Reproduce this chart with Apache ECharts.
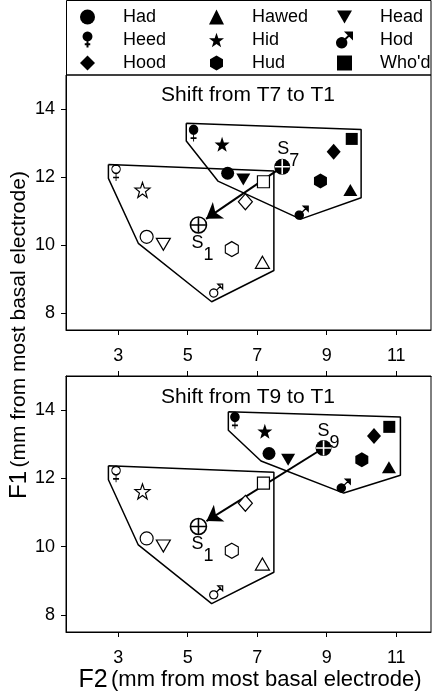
<!DOCTYPE html>
<html>
<head>
<meta charset="utf-8">
<script src="https://cdn.jsdelivr.net/npm/echarts@6/dist/echarts.min.js"></script>
<style>html,body{margin:0;padding:0;background:#fff}#c{width:433px;height:699px}</style>
</head>
<body>
<div id="c"></div>
<script>
// ---------- data ----------
const vowels = ['Had', 'Hawed', 'Head', 'Heed', 'Hid', 'Hod', 'Hood', 'Hud', "Who'd"];
// T1 (open symbols): F2, F1
const t1F2 = [3.82, 7.15, 4.30, 2.94, 3.70, 5.82, 6.66, 6.27, 7.18];
const t1F1 = [10.24, 9.49, 10.02, 12.12, 11.62, 8.66, 11.27, 9.88, 11.86];
// T7 (filled, top panel)
const t7F2 = [6.15, 9.68, 6.60, 5.17, 5.99, 8.28, 9.20, 8.82, 9.72];
const t7F1 = [12.11, 11.62, 11.93, 13.28, 12.96, 10.95, 12.74, 11.88, 13.12];
// T9 (filled, bottom panel)
const t9F2 = [7.34, 10.79, 7.89, 6.36, 7.22, 9.49, 10.36, 10.01, 10.80];
const t9F1 = [12.73, 12.33, 12.55, 13.69, 13.38, 11.79, 13.24, 12.55, 13.51];
// centroids
const s1 = [5.31, 10.59];
const s7 = [7.72, 12.30];
const s9 = [8.91, 12.89];
// arrow tips (at the edge of S1)
const arrowTipTop = [5.53, 10.77];
const arrowTipBottom = [5.54, 10.75];
// polygon outlines
const hullT1 = [[2.72, 12.37], [2.72, 11.96], [3.58, 10.05], [5.69, 8.33], [7.48, 9.25], [7.48, 12.18], [2.72, 12.37]];
const hullT7 = [[4.96, 13.58], [4.96, 13.06], [5.87, 11.88], [8.25, 10.76], [9.99, 11.39], [9.99, 13.40], [4.96, 13.58]];
const hullT9 = [[6.17, 13.95], [6.17, 13.41], [7.11, 12.51], [9.49, 11.57], [11.12, 12.09], [11.12, 13.80], [6.17, 13.95]];
// ticks
const xTicks = [3, 5, 7, 9, 11];
const yTicks = [8, 10, 12, 14];
const titles = ['Shift from T7 to T1', 'Shift from T9 to T1'];
const legendCols = [['Had', 'Heed', 'Hood'], ['Hawed', 'Hid', 'Hud'], ['Head', 'Hod', "Who'd"]];

// ---------- styling ----------
const FONT = 'Liberation Sans, Arial, Helvetica, sans-serif';
function circ(cx, cy, r) {
  let d = '';
  for (let k = 0; k < 24; k++) {
    const a = k / 24 * Math.PI * 2;
    d += (k === 0 ? 'M' : 'L') + (cx + r * Math.cos(a)).toFixed(2) + ',' + (cy + r * Math.sin(a)).toFixed(2);
  }
  return d + 'Z';
}
const P = {
  star: 'path://M10,0L12.35,6.76L19.51,6.91L13.8,11.24L15.88,18.09L10,14L4.12,18.09L6.2,11.24L0.49,6.91L7.65,6.76Z',
  hex: 'path://M8.66,0L17.32,5L17.32,15L8.66,20L0,15L0,5Z',
  tdown: 'path://M0,0L10,0L5,8.66Z',
  female: 'path://' + circ(5, 5, 5) + 'M5,10L5,19M1.5,15L8.5,15',
  male: 'path://' + circ(5, 11, 5) + 'M8.5,7.5L14,2M10,0L16,0L16,6Z',
  cross: 'path://M0,10L20,10M10,0L10,20'
};
const symbolOf = {
  'Had': 'circle', 'Hawed': 'triangle', 'Head': P.tdown, 'Heed': P.female, 'Hid': P.star,
  'Hod': P.male, 'Hood': 'diamond', 'Hud': P.hex, "Who'd": 'rect'
};
const sizeOf = {
  'Had': 13, 'Hawed': [14, 12], 'Head': [14, 12], 'Heed': [8.5, 16], 'Hid': 15,
  'Hod': 13, 'Hood': [14, 16], 'Hud': [13, 15], "Who'd": 12
};
const strokeSyms = {'Heed': 1, 'Hod': 1};

function pointSeries(name, gi, x, y, filled) {
  return {
    name: filled ? name : name + ' (T1)',
    type: 'scatter', xAxisIndex: gi === 0 ? 0 : 1, yAxisIndex: gi,
    data: [[x, y]],
    symbol: symbolOf[name], symbolSize: sizeOf[name], symbolKeepAspect: false,
    itemStyle: filled
      ? {color: '#000', borderColor: '#000', borderWidth: strokeSyms[name] ? 1.3 : 0, opacity: 1}
      : {color: '#fff', borderColor: '#000', borderWidth: 1.2, opacity: 1},
    z: 5, silent: true
  };
}
function hullSeries(data, gi) {
  return {type: 'line', xAxisIndex: gi === 0 ? 0 : 1, yAxisIndex: gi, data: data, showSymbol: false,
    symbol: 'none', lineStyle: {color: '#000', width: 1.5}, z: 2, silent: true};
}
function arrowSeries(from, to, gi) {
  return {type: 'lines', coordinateSystem: 'cartesian2d', xAxisIndex: gi === 0 ? 0 : 1, yAxisIndex: gi,
    data: [{coords: [from, to]}], symbol: ['none', 'arrow'], symbolSize: 15,
    lineStyle: {color: '#000', width: 2, opacity: 1, curveness: 0}, z: 3, silent: true};
}
const richS = {
  s: {fontSize: 18, fontFamily: FONT, color: '#000', lineHeight: 17, verticalAlign: 'top'},
  sub: {fontSize: 18, fontFamily: FONT, color: '#000', lineHeight: 30, verticalAlign: 'bottom'}
};
function centroidSeries(pt, gi, filled, sub, offset) {
  const xi = gi === 0 ? 0 : 1;
  return [
    {type: 'scatter', xAxisIndex: xi, yAxisIndex: gi, data: [pt], symbol: 'circle', symbolSize: 16,
      itemStyle: filled ? {color: '#000', borderWidth: 0, opacity: 1} : {color: '#fff', borderColor: '#000', borderWidth: 1.6, opacity: 1},
      label: {show: true, position: 'inside', offset: offset, formatter: '{s|S}{sub|' + sub + '}', rich: richS},
      z: 6, silent: true},
    {type: 'scatter', xAxisIndex: xi, yAxisIndex: gi, data: [pt], symbol: P.cross, symbolSize: 15,
      itemStyle: {color: 'none', borderColor: filled ? '#fff' : '#000', borderWidth: 1.6, opacity: 1},
      z: 7, silent: true}
  ];
}

const series = [];
series.push(hullSeries(hullT1, 0), hullSeries(hullT7, 0), hullSeries(hullT1, 1), hullSeries(hullT9, 1));
series.push(arrowSeries(s7, arrowTipTop, 0), arrowSeries(s9, arrowTipBottom, 1));
vowels.forEach((v, i) => {
  series.push(pointSeries(v, 0, t7F2[i], t7F1[i], true));
  series.push(pointSeries(v, 1, t9F2[i], t9F1[i], true));
  series.push(pointSeries(v, 0, t1F2[i], t1F1[i], false));
  series.push(pointSeries(v, 1, t1F2[i], t1F1[i], false));
});
series.push(...centroidSeries(s1, 0, false, '1', [4, 24]));
series.push(...centroidSeries(s7, 0, true, '7', [6, -12]));
series.push(...centroidSeries(s1, 1, false, '1', [4, 24]));
series.push(...centroidSeries(s9, 1, true, '9', [5, -11]));

const axisCommon = {
  type: 'value', min: 1.5, max: 12,
  axisLine: {show: true, lineStyle: {color: '#000', width: 1}},
  axisTick: {show: true, length: 5, customValues: xTicks, lineStyle: {color: '#000'}},
  axisLabel: {show: true, customValues: xTicks, fontSize: 18, fontFamily: FONT, color: '#000', margin: 17},
  splitLine: {show: false}
};
const yCommon = {
  type: 'value', min: 7.5, max: 15,
  axisLine: {show: true, lineStyle: {color: '#000', width: 1}},
  axisTick: {show: true, length: 5, customValues: yTicks, lineStyle: {color: '#000'}},
  axisLabel: {show: true, customValues: yTicks, fontSize: 18, fontFamily: FONT, color: '#000', margin: 11},
  splitLine: {show: false}
};

const legends = legendCols.map((col, k) => ({
  data: col, orient: 'vertical', left: [80, 209, 336][k], top: 8, padding: 0,
  itemWidth: 15, itemHeight: 15, itemGap: 5, selectedMode: false,
  textStyle: {fontSize: 18, fontFamily: FONT, color: '#000', padding: [0, 0, 0, 23]}
}));

const option = {
  backgroundColor: '#fff',
  animation: false,
  grid: [
    {left: 66, right: 2, top: 75, height: 255, show: true, borderColor: '#000', borderWidth: 1},
    {left: 66, right: 2, top: 376, height: 256, show: true, borderColor: '#000', borderWidth: 1}
  ],
  xAxis: [
    Object.assign({}, axisCommon, {gridIndex: 0, position: 'bottom'}),
    Object.assign({}, axisCommon, {gridIndex: 1, position: 'bottom'}),
    Object.assign({}, axisCommon, {gridIndex: 1, position: 'top', axisLabel: {show: false}})
  ],
  yAxis: [
    Object.assign({}, yCommon, {gridIndex: 0}),
    Object.assign({}, yCommon, {gridIndex: 1})
  ],
  title: [
    {text: titles[0], left: 243, top: 80, textAlign: 'center', textStyle: {fontSize: 21, fontWeight: 'normal', fontFamily: FONT, color: '#000'}},
    {text: titles[1], left: 243, top: 382, textAlign: 'center', textStyle: {fontSize: 21, fontWeight: 'normal', fontFamily: FONT, color: '#000'}}
  ],
  legend: legends,
  graphic: [
    {type: 'rect', shape: {x: 66.5, y: 0.5, width: 364.5, height: 74.5}, style: {fill: 'none', stroke: '#000', lineWidth: 1}, z: 0, silent: true},
    {type: 'text', x: 250, y: 680, style: {text: '{a|F2} {b|(mm from most basal electrode)}', align: 'center', verticalAlign: 'middle',
      rich: {a: {fontSize: 25, fontFamily: FONT, color: '#000'}, b: {fontSize: 22, fontFamily: FONT, color: '#000'}}}, silent: true},
    {type: 'text', x: 19, y: 335, rotation: Math.PI / 2, style: {text: '{a|F1} {b|(mm from most basal electrode)}', align: 'center', verticalAlign: 'middle',
      rich: {a: {fontSize: 24, fontFamily: FONT, color: '#000'}, b: {fontSize: 21, fontFamily: FONT, color: '#000'}}}, silent: true}
  ],
  series: series
};
const chart = echarts.init(document.getElementById('c'), null, {renderer: 'canvas'});
chart.setOption(option);
</script>
</body>
</html>
